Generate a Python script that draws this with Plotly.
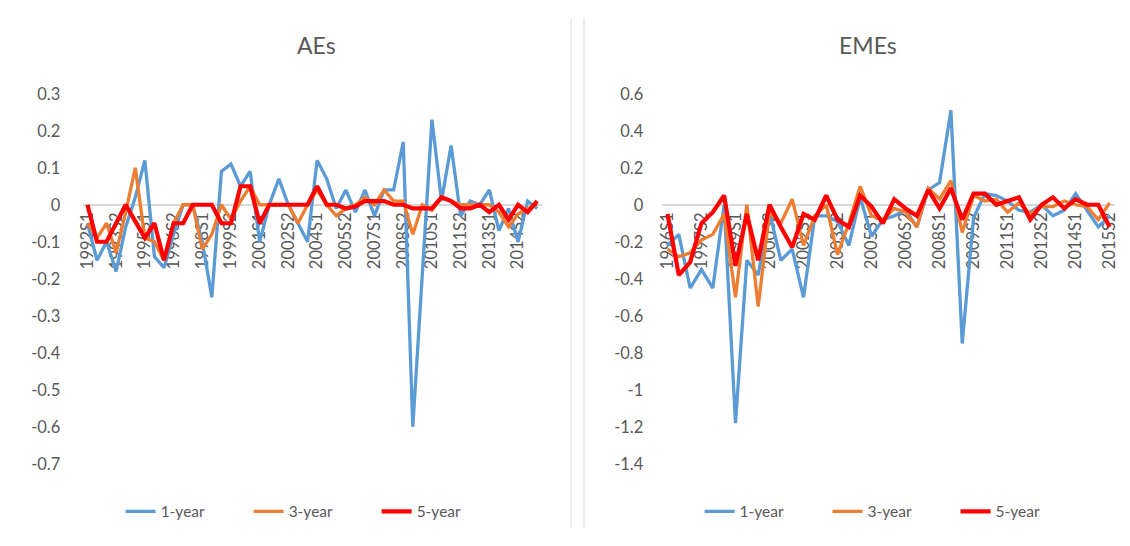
import plotly.graph_objects as go

# ---------------- data ----------------
ae_periods = [f"{y}S{h}" for y in range(1992, 2016) for h in (1, 2)]  # 1992S1..2015S2
eme_periods = [f"{y}S{h}" for y in range(1996, 2016) for h in (1, 2)]  # 1996S1..2015S2

ae_1y = [-0.05, -0.15, -0.10, -0.18, -0.06, 0.02, 0.12, -0.14, -0.17, -0.08,
         0.00, 0.00, -0.10, -0.25, 0.09, 0.11, 0.05, 0.09, -0.10, 0.00,
         0.07, 0.00, -0.05, -0.10, 0.12, 0.07, -0.01, 0.04, -0.02, 0.04,
         -0.03, 0.04, 0.04, 0.17, -0.60, -0.19, 0.23, 0.01, 0.16, -0.03,
         0.01, 0.00, 0.04, -0.07, -0.01, -0.10, 0.01, -0.01]
ae_3y = [-0.05, -0.09, -0.05, -0.13, -0.02, 0.10, -0.09, -0.10, -0.15, -0.05,
         0.00, 0.00, -0.12, -0.08, 0.00, -0.04, 0.01, 0.05, 0.00, 0.00,
         0.00, 0.00, -0.05, 0.00, 0.04, 0.00, -0.03, -0.01, 0.00, 0.02,
         0.00, 0.04, 0.01, 0.01, -0.08, 0.00, -0.015, 0.02, 0.01, 0.00,
         0.00, 0.00, 0.00, -0.02, -0.06, -0.025, -0.01, 0.00]
ae_5y = [0.00, -0.10, -0.10, -0.05, 0.00, -0.045, -0.09, -0.05, -0.15, -0.05,
         -0.05, 0.00, 0.00, 0.00, -0.05, -0.05, 0.05, 0.05, -0.05, 0.00,
         0.00, 0.00, 0.00, 0.00, 0.05, 0.00, 0.00, -0.01, -0.005, 0.01,
         0.01, 0.01, 0.00, 0.00, -0.01, -0.01, -0.01, 0.02, 0.01, -0.01,
         -0.01, 0.00, -0.02, 0.00, -0.04, 0.00, -0.02, 0.01]

eme_1y = [-0.22, -0.16, -0.45, -0.35, -0.45, 0.00, -1.18, -0.30, -0.38, -0.04,
          -0.30, -0.24, -0.50, -0.06, -0.06, -0.09, -0.22, 0.04, -0.17, -0.08,
          -0.06, -0.03, -0.12, 0.08, 0.12, 0.51, -0.75, -0.07, 0.06, 0.05,
          0.02, -0.03, -0.04, 0.00, -0.06, -0.03, 0.06, -0.03, -0.12, -0.06]
eme_3y = [-0.24, -0.28, -0.26, -0.19, -0.16, -0.05, -0.50, 0.00, -0.55, -0.04,
          -0.10, 0.03, -0.22, -0.06, 0.00, -0.27, -0.10, 0.10, -0.06, -0.08,
          -0.02, -0.04, -0.12, 0.09, 0.03, 0.13, -0.15, 0.05, 0.02, 0.03,
          -0.04, 0.01, -0.05, -0.01, -0.01, 0.02, 0.00, -0.01, -0.08, 0.01]
eme_5y = [-0.05, -0.38, -0.31, -0.10, -0.04, 0.05, -0.33, -0.05, -0.30, 0.00,
          -0.12, -0.23, -0.05, -0.08, 0.05, -0.08, -0.12, 0.05, -0.01, -0.10,
          0.03, -0.02, -0.06, 0.08, -0.02, 0.09, -0.08, 0.06, 0.06, 0.00,
          0.02, 0.04, -0.08, 0.00, 0.04, -0.02, 0.03, 0.00, 0.00, -0.12]

series_names = ["1-year", "3-year", "5-year"]
titles = ["AEs", "EMEs"]
ae_yticks = [0.3, 0.2, 0.1, 0, -0.1, -0.2, -0.3, -0.4, -0.5, -0.6, -0.7]
eme_yticks = [0.6, 0.4, 0.2, 0, -0.2, -0.4, -0.6, -0.8, -1, -1.2, -1.4]

# ---------------- styling ----------------
OFF = 8
W, H = 1130 - 2 * OFF, 546 - 2 * OFF
FONT = "Lato"
GREY_TXT = "#595959"
BORDER = "#d9d9d9"
COLORS = ["#5B9BD5", "#ED7D31", "#FF0000"]
WIDTHS = [3.3, 3.3, 4.2]

# empirical correction between intended page pixels and the photographed picture
SX, DX = 0.986, 9.0
SY, DY = 0.962, 10.6


def px(x):
    """target picture x (px) -> paper fraction"""
    xi = (x - DX) / SX
    return (xi - OFF) / W


def py(y):
    """target picture y (px) -> paper fraction"""
    yi = (y - DY) / SY
    return 1 - (yi - OFF) / H


def fmt(v):
    return f"{v:g}"


fig = go.Figure()

for i, (name, vals) in enumerate(zip(series_names, [ae_1y, ae_3y, ae_5y])):
    fig.add_trace(go.Scatter(x=ae_periods, y=vals, mode="lines", name=name,
                             line=dict(color=COLORS[i], width=WIDTHS[i]),
                             xaxis="x", yaxis="y", legend="legend"))
for i, (name, vals) in enumerate(zip(series_names, [eme_1y, eme_3y, eme_5y])):
    fig.add_trace(go.Scatter(x=eme_periods, y=vals, mode="lines", name=name,
                             line=dict(color=COLORS[i], width=WIDTHS[i]),
                             xaxis="x2", yaxis="y2", legend="legend2"))

ydom = [py(464), py(94)]


def zero_pos(rng):
    lo, hi = rng
    return ydom[0] + (0 - lo) / (hi - lo) * (ydom[1] - ydom[0])


ae_range = [-0.7, 0.3]
eme_range = [-1.4, 0.6]

tickfont = dict(family=FONT, size=16.5, color=GREY_TXT)

common_x = dict(type="category", showgrid=False, zeroline=False, showline=True,
                linecolor=BORDER, linewidth=2, ticks="", tickangle=-90,
                tickfont=tickfont, layer="below traces", anchor="free",
                fixedrange=True)
common_y = dict(showgrid=False, zeroline=False, showline=False, ticks="",
                tickfont=tickfont, anchor="free", fixedrange=True)

title_font = dict(family=FONT, size=23, color=GREY_TXT)
legend_font = dict(family=FONT, size=15.5, color=GREY_TXT)

fig.update_layout(
    width=W, height=H, margin=dict(l=0, r=0, t=0, b=0),
    paper_bgcolor="white", plot_bgcolor="rgba(0,0,0,0)",
    showlegend=True,
    xaxis=dict(common_x, domain=[px(85.2), px(542.2)], range=[-0.5, len(ae_periods) - 0.5],
               position=zero_pos(ae_range), tickvals=ae_periods[::3], ticktext=ae_periods[::3]),
    yaxis=dict(common_y, domain=ydom, range=ae_range, position=px(63),
               tickvals=ae_yticks, ticktext=[fmt(v) for v in ae_yticks]),
    xaxis2=dict(common_x, domain=[px(661.4), px(1112.6)], range=[-0.5, len(eme_periods) - 0.5],
                position=zero_pos(eme_range), tickvals=eme_periods[::3], ticktext=eme_periods[::3]),
    yaxis2=dict(common_y, domain=ydom, range=eme_range, position=px(643),
                tickvals=eme_yticks, ticktext=[fmt(v) for v in eme_yticks]),
    legend=dict(orientation="h", x=px(314), xanchor="center", y=py(512), yanchor="middle",
                font=legend_font, entrywidth=83, bgcolor="rgba(0,0,0,0)"),
    legend2=dict(orientation="h", x=px(890), xanchor="center", y=py(512), yanchor="middle",
                 font=legend_font, entrywidth=83, bgcolor="rgba(0,0,0,0)"),
    annotations=[
        dict(text=titles[0], x=px(318), y=py(45), xref="paper", yref="paper",
             xanchor="center", yanchor="middle", showarrow=False, font=title_font),
        dict(text=titles[1], x=px(867), y=py(45), xref="paper", yref="paper",
             xanchor="center", yanchor="middle", showarrow=False, font=title_font),
    ],
    shapes=[
        dict(type="line", xref="paper", yref="paper", x0=px(571), x1=px(571), y0=0, y1=1,
             line=dict(color=BORDER, width=1), layer="below"),
        dict(type="line", xref="paper", yref="paper", x0=px(584), x1=px(584), y0=0, y1=1,
             line=dict(color=BORDER, width=1), layer="below"),
    ],
)

fig.write_html("out.html")
